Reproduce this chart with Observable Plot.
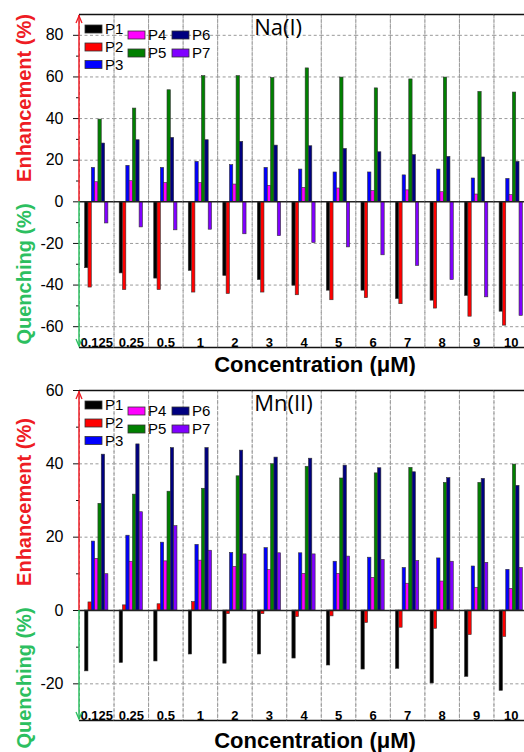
<!DOCTYPE html>
<html><head><meta charset="utf-8">
<script src="https://cdn.jsdelivr.net/npm/d3@7"></script>
<script src="https://cdn.jsdelivr.net/npm/@observablehq/plot@0.6"></script>
<style>
body{margin:0;background:#fff;overflow:hidden}
#chart{width:524px;height:752px;overflow:hidden;position:relative;background:#fff}
#chart svg{display:block;overflow:hidden}
</style></head><body><div id="chart"></div>
<script>
// ---------- data ----------
const concentrations = ["0.125","0.25","0.5","1","2","3","4","5","6","7","8","9","10"];
const series = ["P1","P2","P3","P4","P5","P6","P7"];
const seriesColors = ["#000000","#ff0000","#0000ff","#ff00ff","#008000","#000080","#8000ff"];

// Na(I) panel
const naP1 = [-31.9,-34.4,-36.9,-33.2,-35.6,-37.6,-40.3,-42.7,-42.7,-46.7,-47.5,-45.2,-52.8];
const naP2 = [-41.2,-42.4,-42.4,-43.6,-44.3,-43.6,-44.9,-47.3,-46.3,-49.2,-51.3,-55.2,-59.5];
const naP3 = [16.3,17.3,16.3,19.2,17.6,16.3,15.5,14.1,14.1,12.7,15.5,11.2,11.0];
const naP4 = [9.4,9.9,9.0,9.0,8.3,7.7,6.7,6.4,5.1,5.5,4.6,3.5,3.2];
const naP5 = [39.5,44.8,53.6,60.4,60.4,59.5,64.1,59.7,54.5,58.8,59.7,52.8,52.5];
const naP6 = [28.0,29.6,30.7,29.6,28.8,27.0,26.7,25.4,23.8,22.4,21.6,21.3,19.2];
const naP7 = [-10.4,-12.3,-13.7,-13.4,-15.6,-16.5,-19.8,-21.9,-25.7,-30.8,-37.6,-45.9,-54.8];

// Mn(II) panel
const mnP1 = [-16.6,-14.3,-13.9,-12.0,-14.5,-12.0,-13.1,-15.0,-16.1,-15.9,-19.9,-18.1,-21.9];
const mnP2 = [2.2,1.4,1.7,2.3,-1.0,-1.0,-1.8,-1.6,-3.4,-4.7,-5.0,-6.7,-7.2];
const mnP3 = [18.8,20.4,18.5,17.9,15.7,17.0,15.6,13.3,14.4,11.6,14.2,12.0,11.1];
const mnP4 = [14.1,13.3,13.4,13.6,11.9,11.0,10.0,10.0,8.9,7.3,7.9,6.2,5.9];
const mnP5 = [29.1,31.6,32.4,33.2,36.6,39.9,39.2,36.0,37.4,38.9,34.8,34.8,39.8];
const mnP6 = [42.5,45.3,44.3,44.3,43.6,41.7,41.4,39.5,38.8,37.7,36.1,35.9,34.0];
const mnP7 = [9.9,26.8,23.0,16.3,15.3,15.6,15.3,14.7,13.8,13.5,13.3,13.0,11.6];

const naTicks = [80,60,40,20,0,-20,-40,-60];
const naMinor = [70,50,30,10,-10,-30,-50];
const mnTicks = [60,40,20,0,-20];
const mnMinor = [50,30,10,-10];

const xTitle = "Concentration (\u03bcM)";
const enhTitle = "Enhancement (%)";
const queTitle = "Quenching (%)";

// ---------- layout / styles ----------
const legendLayout = [
  {x:85,y:29},{x:85,y:47},{x:85,y:64.5},
  {x:128,y:35},{x:128,y:53},
  {x:172,y:35},{x:172,y:53}
];
const RED = "#ee1c24", GREEN = "#2cbf60";
const FONT = "'Liberation Sans', Arial, Helvetica, sans-serif";

function drawPanel(cfg) {
  const values = cfg.values;
  const rows = [];
  series.forEach((s, j) => values[j].forEach((v, i) => rows.push({conc: concentrations[i], series: s, value: v})));

  const plot = Plot.plot({
    width: 524, height: 376,
    marginLeft: 79, marginRight: -4, marginTop: 14, marginBottom: cfg.marginBottom,
    style: {fontFamily: FONT, fontSize: "16px", color: "#000", background: "#fff"},
    fx: {domain: concentrations, padding: 0, round: false, axis: null, label: null},
    x: {domain: series, paddingInner: 0, paddingOuter: 1.7, round: false, axis: null},
    y: {domain: cfg.domain, axis: null},
    color: {domain: series, range: seriesColors},
    marks: [
      Plot.frame({stroke: "#9a9a9a", strokeDasharray: "3,2.5", strokeWidth: 1}),
      Plot.gridY(cfg.ticks.filter(t => t !== 0), {stroke: "#9a9a9a", strokeOpacity: 1, strokeDasharray: "3,2.5", strokeWidth: 1}),
      Plot.barY(rows, {fx: "conc", x: "series", y: "value", fill: "series", stroke: "#333", strokeWidth: 0.6}),
      Plot.ruleY([0], {stroke: "#222", strokeWidth: 1.5}),
      Plot.ruleY(cfg.domain, {stroke: "#111", strokeWidth: 1.6}),
      Plot.axisY({ticks: cfg.ticks, tickSize: 6, tickPadding: 10, tickFormat: d => String(d), fontSize: 16, label: null, stroke: "#111"}),
      Plot.axisY({ticks: cfg.minor, tickSize: 3, tickFormat: () => "", label: null, stroke: "#111"}),
      Plot.text(concentrations, {fx: d => d, text: d => d, frameAnchor: "bottom", lineAnchor: "bottom", dy: -1, fontWeight: "bold", fontSize: 13, fill: "#000"}),
      Plot.text([cfg.name], {fx: () => cfg.nameFacet, text: d => d, frameAnchor: "top-left", textAnchor: "start", lineAnchor: "middle", dx: 2, dy: 13, fontSize: 22, fontFamily: "'Open Sans', 'Noto Sans', sans-serif", fill: "#000"})
    ]
  });

  const svg = d3.select(plot);
  const y = plot.scale("y");
  const y0 = y.apply(0), yTop = y.apply(cfg.domain[1]), yBot = y.apply(cfg.domain[0]);
  const ax = 79;
  const g = svg.append("g");
  // enhancement axis (red, arrow up)
  g.append("line").attr("x1", ax).attr("x2", ax).attr("y1", y0).attr("y2", yTop + 1)
    .attr("stroke", RED).attr("stroke-width", 1.5);
  g.append("path").attr("d", `M${ax-3},${yTop+9}L${ax},${yTop+2}L${ax+3},${yTop+9}`)
    .attr("fill", "none").attr("stroke", RED).attr("stroke-width", 1.3);
  // quenching axis (green, arrow down)
  g.append("line").attr("x1", ax).attr("x2", ax).attr("y1", y0).attr("y2", yBot - 1)
    .attr("stroke", GREEN).attr("stroke-width", 1.5);
  g.append("path").attr("d", `M${ax-3},${yBot-8}L${ax},${yBot-1}L${ax+3},${yBot-8}`)
    .attr("fill", "none").attr("stroke", GREEN).attr("stroke-width", 1.3);

  // axis titles
  g.append("text").attr("transform", `translate(30.5,${cfg.enhY}) rotate(-90)`)
    .attr("text-anchor", "middle").attr("fill", RED).attr("font-family", FONT)
    .attr("font-weight", "bold").attr("font-size", 20).text(enhTitle);
  g.append("text").attr("transform", `translate(30.5,${cfg.queY}) rotate(-90)`)
    .attr("text-anchor", "middle").attr("fill", GREEN).attr("font-family", FONT)
    .attr("font-weight", "bold").attr("font-size", 20).text(queTitle);
  g.append("text").attr("x", 315).attr("y", 372).attr("text-anchor", "middle")
    .attr("fill", "#000").attr("font-family", FONT).attr("font-weight", "bold")
    .attr("font-size", 22).text(xTitle);

  // legend
  const lg = svg.append("g").attr("text-anchor", "start");
  series.forEach((s, j) => {
    const p = legendLayout[j];
    lg.append("rect").attr("x", p.x).attr("y", p.y - 4).attr("width", 17).attr("height", 8)
      .attr("fill", seriesColors[j]).attr("stroke", "#333").attr("stroke-width", 0.8);
    lg.append("text").attr("x", p.x + 20).attr("y", p.y).attr("dy", "0.35em")
      .attr("text-anchor", "start")
      .attr("font-family", FONT).attr("font-size", 15).attr("fill", "#000").text(s);
  });
  return plot;
}

const chart = document.getElementById("chart");
chart.appendChild(drawPanel({
  values: [naP1, naP2, naP3, naP4, naP5, naP6, naP7],
  domain: [-70, 90], ticks: naTicks, minor: naMinor, marginBottom: 29,
  name: "Na(I)", nameFacet: "3", enhY: 98, queY: 274
}));
chart.appendChild(drawPanel({
  values: [mnP1, mnP2, mnP3, mnP4, mnP5, mnP6, mnP7],
  domain: [-30, 60], ticks: mnTicks, minor: mnMinor, marginBottom: 32,
  name: "Mn(II)", nameFacet: "3", enhY: 126, queY: 302
}));
</script>
</body></html>
